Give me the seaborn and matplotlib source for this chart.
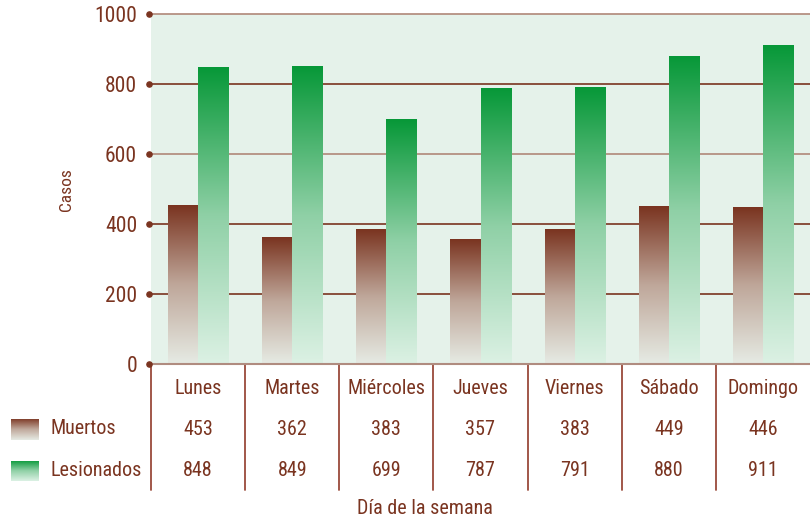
import numpy as np
import pandas as pd
import seaborn as sns
import matplotlib
matplotlib.use("Agg")
from matplotlib import pyplot as plt
from matplotlib.colors import LinearSegmentedColormap
import matplotlib.transforms as mtransforms

dias = ["Lunes", "Martes", "Miércoles", "Jueves", "Viernes", "Sábado", "Domingo"]
muertos = [453, 362, 383, 357, 383, 449, 446]
lesionados = [848, 849, 699, 787, 791, 880, 911]
yticks = [0, 200, 400, 600, 800, 1000]

brown = "#7a3420"
bg = "#e5f2ea"
cmap_m = LinearSegmentedColormap.from_list("m", ["#e6ebe4", "#bfa79a", "#7a3420"])
cmap_l = LinearSegmentedColormap.from_list("l", ["#dcf1e4", "#8fd0a6", "#079838"])

sns.set_style("white")
plt.rcParams['font.family'] = ['Roboto Condensed', 'Liberation Sans', 'DejaVu Sans']
fs = 14.5

df = pd.DataFrame({
    "dia": dias * 2,
    "casos": muertos + lesionados,
    "serie": ["Muertos"] * len(dias) + ["Lesionados"] * len(dias),
})

fig = plt.figure(figsize=(8.1, 5.25), dpi=100)
ax = fig.add_axes([151 / 810, 1 - 364 / 525, 659 / 810, 350 / 525])
ax.set_facecolor(bg)

sns.barplot(data=df, x="dia", y="casos", hue="serie", width=0.64,
            palette=["#7a3420", "#079838"], legend=False, ax=ax, zorder=3)

# gradient fill for each bar
grad = np.linspace(0, 1, 256).reshape(-1, 1)
patches = list(ax.patches)
for i, p in enumerate(patches):
    x, w, h = p.get_x(), p.get_width(), p.get_height()
    if h <= 0:
        continue
    cm = cmap_m if i < len(dias) else cmap_l
    ax.imshow(grad, extent=[x, x + w, 0, h], origin="lower", aspect="auto",
              cmap=cm, zorder=3)
    p.set_visible(False)

ax.set_xlim(-0.5, len(dias) - 0.5)
ax.set_ylim(0, 1000)
ax.set_yticks(yticks)
ax.set_yticklabels([str(t) for t in yticks], fontsize=fs + 1, color=brown)
ax.tick_params(axis="y", length=0, pad=10)
ax.set_xticks([])
ax.set_xlabel("")
ax.set_ylabel("")
for s in ax.spines.values():
    s.set_visible(False)

for t in yticks[1:]:
    ax.axhline(t, color="#b08878" if t in (600, 1000) else brown, lw=1.2, zorder=1, clip_on=False)
ax.axhline(0, color="#b08c80", lw=1.5, zorder=4, clip_on=False)

# tick dots on the left edge
tr = mtransforms.blended_transform_factory(ax.transAxes, ax.transData)
ax.scatter([-0.003] * len(yticks), yticks, s=14, color=brown, transform=tr,
           clip_on=False, zorder=5)

# table below
trx = mtransforms.blended_transform_factory(ax.transData, ax.transAxes)
for b in np.arange(-0.5, len(dias) - 0.5, 1.0):
    ax.plot([b, b], [0, -0.36], color="#9a4a3a", lw=1.3, transform=trx, clip_on=False)
for i, d in enumerate(dias):
    ax.text(i, -0.069, d, transform=trx, ha="center", va="center", fontsize=fs, color=brown)
    ax.text(i, -0.186, str(muertos[i]), transform=trx, ha="center", va="center", fontsize=fs, color=brown)
    ax.text(i, -0.303, str(lesionados[i]), transform=trx, ha="center", va="center", fontsize=fs, color=brown)

# legend swatches
for ypx, cm, lab in [(429, cmap_m, "Muertos"), (471, cmap_l, "Lesionados")]:
    lax = fig.add_axes([11 / 810, 1 - (ypx + 10.5) / 525, 28 / 810, 21 / 525])
    lax.imshow(grad, origin="lower", aspect="auto", cmap=cm)
    lax.axis("off")
    fig.text(50 / 810, 1 - ypx / 525, lab, ha="left", va="center", fontsize=fs, color=brown)

fig.text(425 / 810, 1 - 508 / 525, "Día de la semana", ha="center", va="center",
         fontsize=fs, color=brown)
fig.text(66 / 810, 1 - 190 / 525, "Casos", ha="center", va="center", rotation=90,
         fontsize=fs - 2, color=brown)

fig.savefig("out.png", dpi=100)
